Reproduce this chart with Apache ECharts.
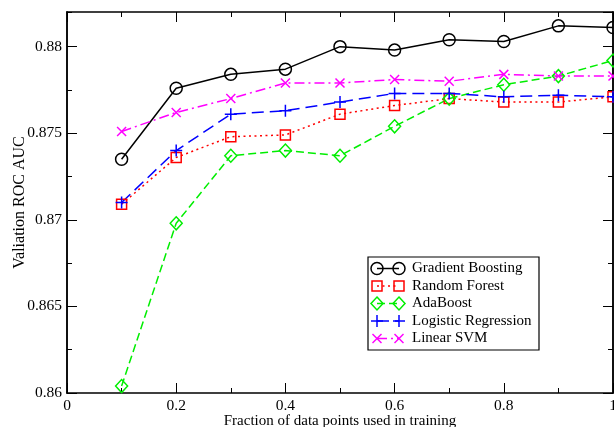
<!DOCTYPE html>
<html>
<head>
<meta charset="utf-8">
<script src="https://cdn.jsdelivr.net/npm/echarts@6/dist/echarts.min.js"></script>
<style>
  html, body { margin: 0; padding: 0; background: #fff; }
  #chart { width: 614px; height: 427px; }
</style>
</head>
<body>
<div id="chart"></div>
<script>
const fractions = [0.1, 0.2, 0.3, 0.4, 0.5, 0.6, 0.7, 0.8, 0.9, 1.0];

const gradientBoosting = [0.8735, 0.8776, 0.8784, 0.8787, 0.8800, 0.8798, 0.8804, 0.8803, 0.8812, 0.8811];
const randomForest = [0.8709, 0.8736, 0.8748, 0.8749, 0.8761, 0.8766, 0.8770, 0.8768, 0.8768, 0.8771];
const adaBoost = [0.8604, 0.8698, 0.8737, 0.8740, 0.8737, 0.8754, 0.8770, 0.8778, 0.8783, 0.8792];
const logisticRegression = [0.8710, 0.8740, 0.8761, 0.8763, 0.8768, 0.8773, 0.8773, 0.8771, 0.8772, 0.8771];
const linearSVM = [0.8751, 0.8762, 0.8770, 0.8779, 0.8779, 0.8781, 0.8780, 0.8784, 0.8783, 0.8783];

const FONT = 'Liberation Serif';

const models = [
  { name: 'Gradient Boosting', data: gradientBoosting, color: '#000000', symbol: 'circle', size: 12, dash: 'solid' },
  { name: 'Random Forest', data: randomForest, color: '#ff0000', symbol: 'rect', size: 10, dash: [2, 3.5] },
  { name: 'AdaBoost', data: adaBoost, color: '#00ee00', symbol: 'diamond', size: [12, 13], dash: [8, 4] },
  { name: 'Logistic Regression', data: logisticRegression, color: '#0000ff', symbol: 'path://M5,0L5,10M0,5L10,5', size: 12, dash: [12, 6] },
  { name: 'Linear SVM', data: linearSVM, color: '#ff00ff', symbol: 'path://M0,0L10,10M10,0L0,10', size: 9, dash: [10, 4, 2, 4] },
];

const chart = echarts.init(document.getElementById('chart'));

const xBase = (position) => ({
  type: 'value',
  position: position,
  min: 0,
  max: 1,
  interval: 0.2,
  axisLine: { onZero: false, lineStyle: { color: '#000', width: 1.5 } },
  axisTick: { inside: true, length: 10, lineStyle: { color: '#000', width: 1 } },
  minorTick: { show: true, splitNumber: 2, length: 5, lineStyle: { color: '#000', width: 1 } },
  splitLine: { show: false },
  minorSplitLine: { show: false },
  axisLabel: { show: false },
});

const yBase = (position, interval, tickLen) => ({
  type: 'value',
  position: position,
  min: 0.86,
  max: 0.882,
  interval: interval,
  axisLine: { onZero: false, lineStyle: { color: '#000', width: 1.5 } },
  axisTick: { inside: true, length: tickLen, lineStyle: { color: '#000', width: 1 } },
  splitLine: { show: false },
  axisLabel: { show: false },
});

const xBottom = xBase('bottom');
xBottom.axisLabel = {
  show: true,
  color: '#000',
  fontFamily: FONT,
  fontSize: 15.5,
  margin: 5,
  formatter: (v) => String(+v.toFixed(1)),
};
xBottom.name = 'Fraction of data points used in training';
xBottom.nameLocation = 'middle';
xBottom.nameGap = 21;
xBottom.nameMoveOverlap = false;
xBottom.nameTextStyle = { color: '#000', fontFamily: FONT, fontSize: 15 };

const yLeft = yBase('left', 0.005, 10);
yLeft.axisLabel = {
  show: true,
  color: '#000',
  fontFamily: FONT,
  fontSize: 15.5,
  margin: 5,
  showMaxLabel: false,
  formatter: (v) => String(+v.toFixed(3)),
};
yLeft.name = 'Valiation ROC AUC';
yLeft.nameLocation = 'middle';
yLeft.nameGap = 39;
yLeft.nameMoveOverlap = false;
yLeft.nameTextStyle = { color: '#000', fontFamily: FONT, fontSize: 16 };

// legend drawn by hand: marker - line - marker, like the original plot
function markerShapes(m, cx, cy) {
  const style = { fill: 'none', stroke: m.color, lineWidth: 1.5 };
  if (m.symbol === 'circle') {
    return [{ type: 'circle', shape: { cx: cx, cy: cy, r: 6 }, style }];
  }
  if (m.symbol === 'rect') {
    return [{ type: 'rect', shape: { x: cx - 5, y: cy - 5, width: 10, height: 10 }, style }];
  }
  if (m.symbol === 'diamond') {
    return [{ type: 'polygon', shape: { points: [[cx, cy - 6.5], [cx + 6, cy], [cx, cy + 6.5], [cx - 6, cy]] }, style }];
  }
  if (m.name === 'Logistic Regression') {
    return [
      { type: 'line', shape: { x1: cx - 6, y1: cy, x2: cx + 6, y2: cy }, style },
      { type: 'line', shape: { x1: cx, y1: cy - 6, x2: cx, y2: cy + 6 }, style },
    ];
  }
  return [
    { type: 'line', shape: { x1: cx - 4.5, y1: cy - 4.5, x2: cx + 4.5, y2: cy + 4.5 }, style },
    { type: 'line', shape: { x1: cx + 4.5, y1: cy - 4.5, x2: cx - 4.5, y2: cy + 4.5 }, style },
  ];
}

const legendElements = [
  {
    type: 'rect',
    shape: { x: 368, y: 257, width: 171, height: 93 },
    style: { fill: '#fff', stroke: '#000', lineWidth: 1.2 },
    z: 10,
  },
];
models.forEach((m, i) => {
  const cy = 268.5 + i * 17.5;
  legendElements.push({
    type: 'line',
    shape: { x1: 377, y1: cy, x2: 399, y2: cy },
    style: { stroke: m.color, lineWidth: 1.5, lineDash: m.dash === 'solid' ? null : m.dash },
    z: 11,
  });
  markerShapes(m, 377, cy).concat(markerShapes(m, 399, cy)).forEach((el) => {
    el.z = 11;
    legendElements.push(el);
  });
  legendElements.push({
    type: 'text',
    x: 412,
    y: cy,
    style: { text: m.name, fontFamily: FONT, fontSize: 15, fill: '#000', verticalAlign: 'middle' },
    z: 11,
  });
});

const option = {
  animation: false,
  backgroundColor: '#fff',
  grid: { left: 67, right: 1, top: 12, bottom: 34, outerBoundsMode: 'none', containLabel: false },
  xAxis: [xBottom, xBase('top')],
  yAxis: [
    yLeft,
    yBase('left', 0.0025, 5),
    yBase('right', 0.005, 10),
    yBase('right', 0.0025, 5),
  ],
  series: models.map((m) => ({
    name: m.name,
    type: 'line',
    xAxisIndex: 0,
    yAxisIndex: 0,
    data: fractions.map((x, j) => [x, m.data[j]]),
    symbol: m.symbol,
    symbolSize: m.size,
    showAllSymbol: true,
    clip: false,
    lineStyle: { color: m.color, width: 1.5, type: m.dash },
    itemStyle: { color: 'none', borderColor: m.color, borderWidth: 1.5 },
    emphasis: { disabled: true },
  })),
  graphic: { elements: legendElements },
};

chart.setOption(option);
</script>
</body>
</html>
